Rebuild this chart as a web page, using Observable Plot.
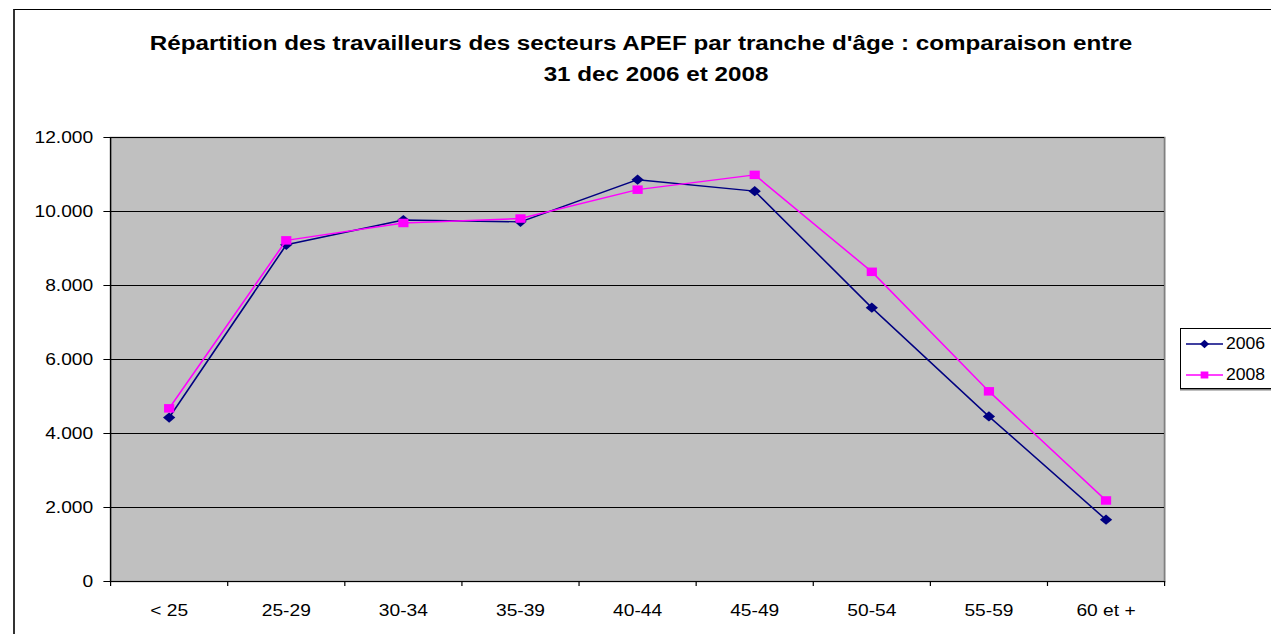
<!DOCTYPE html>
<html>
<head>
<meta charset="utf-8">
<script src="https://cdn.jsdelivr.net/npm/d3@7"></script>
<script src="https://cdn.jsdelivr.net/npm/@observablehq/plot@0.6"></script>
<style>
  html, body { margin: 0; padding: 0; background: #fff; }
  body { width: 1271px; height: 634px; overflow: hidden; position: relative; font-family: "Liberation Sans", Arial, sans-serif; }
  #frame { position: absolute; left: 13px; top: 9px; width: 1400px; height: 800px; border-left: 2px solid #333; border-top: 1.5px solid #000; }
  #chart { position: absolute; left: 0; top: 0; }
  .title { position: absolute; width: 1000px; text-align: center; font-weight: bold; font-size: 20px; line-height: 20px; white-space: nowrap; transform: scaleX(1.21); color: #000; }
  #legend { position: absolute; left: 1180px; top: 328px; width: 130px; height: 59px; border: 1px solid #000; background: #fff; box-shadow: 0 1.5px 0 #808080; }
  .lrow { position: absolute; left: 0; height: 20px; }
  .lrow svg { position: absolute; left: 5px; top: 0; }
  .ltext { position: absolute; left: 45px; top: 0; font-size: 16px; line-height: 20px; transform: scaleX(1.1); transform-origin: 0 0; white-space: nowrap; }
</style>
</head>
<body>
<div id="frame"></div>
<div id="chart"></div>
<div class="title" style="left:141px; top:33px;">Répartition des travailleurs des secteurs APEF par tranche d'âge : comparaison entre</div>
<div class="title" style="left:156px; top:64px;">31 dec 2006 et 2008</div>
<div id="legend"></div>
<script>
// ---- data ----
const categories = ["< 25", "25-29", "30-34", "35-39", "40-44", "45-49", "50-54", "55-59", "60 et +"];
const values2006 = [4430, 9100, 9770, 9720, 10860, 10550, 7400, 4460, 1670];
const values2008 = [4680, 9220, 9690, 9810, 10590, 10990, 8370, 5140, 2190];
const seriesNames = ["2006", "2008"];
const yTicks = [0, 2000, 4000, 6000, 8000, 10000, 12000];

const colors = {"2006": "#000080", "2008": "#ff00ff"};
const symbols = {"2006": "diamond2", "2008": "square"};

const data = [];
categories.forEach((c, i) => {
  data.push({i, cat: c, series: "2006", v: values2006[i]});
  data.push({i, cat: c, series: "2008", v: values2008[i]});
});

const fmt = d => d === 0 ? "0" : d3.format(",")(d).replace(/,/g, ".");
const idx = d3.range(categories.length);
const bounds = d3.range(categories.length + 1).map(k => k - 0.5);

// The reference is horizontally stretched; draw at a narrower width and stretch.
const REAL_W = 1271, H = 634, SX = 1.2002;
const W = Math.round(REAL_W / SX);

const marks = [
  Plot.frame({fill: "#c0c0c0"}),
  Plot.frame({stroke: "#808080", strokeWidth: 1.5}),
  Plot.gridY(yTicks, {stroke: "#000", strokeOpacity: 1, strokeWidth: 1}),
  Plot.ruleX([bounds[0]], {stroke: "#000", strokeWidth: 1}),
  Plot.ruleY([0], {stroke: "#000", strokeWidth: 1}),
  Plot.axisY({ticks: yTicks, tickFormat: fmt, tickSize: 5.5, tickPadding: 9, fill: "#000", stroke: "#000", label: null}),
  Plot.axisX({ticks: bounds, tickSize: 5, tickFormat: () => "", stroke: "#000", label: null}),
  Plot.axisX({ticks: idx, tickSize: 0, tickPadding: 23, tickFormat: i => categories[i], fill: "#000", label: null})
];
for (const s of seriesNames) {
  const d = data.filter(r => r.series === s);
  marks.push(Plot.line(d, {x: "i", y: "v", stroke: colors[s], strokeWidth: 1.4}));
  marks.push(Plot.dot(d, {x: "i", y: "v", symbol: () => symbols[s], fill: colors[s], stroke: "none", r: s === "2006" ? 4.6 : 4.8}));
}

const svg = Plot.plot({
  width: W,
  height: H,
  marginLeft: 110 / SX,
  marginRight: (REAL_W - 1164) / SX,
  marginTop: 137,
  marginBottom: 53,
  x: {domain: [bounds[0], bounds[bounds.length - 1]], axis: null, label: null},
  y: {domain: [0, 12000], axis: null, label: null},
  style: {fontFamily: "'Liberation Sans', Arial, sans-serif", fontSize: "16px", color: "#000", background: "transparent", overflow: "visible"},
  marks
});
svg.setAttribute("width", REAL_W);
svg.setAttribute("height", H);
svg.setAttribute("preserveAspectRatio", "none");
svg.style.width = REAL_W + "px";
svg.style.height = H + "px";
svg.style.maxWidth = "none";
document.getElementById("chart").appendChild(svg);

// ---- legend ----
const legend = d3.select("#legend");
seriesNames.forEach((s, k) => {
  const row = legend.append("div").attr("class", "lrow").style("top", (5 + k * 31) + "px").style("width", "130px");
  const sw = row.append("svg").attr("width", 38).attr("height", 20);
  sw.append("line").attr("x1", 0).attr("x2", 37).attr("y1", 10).attr("y2", 10).attr("stroke", colors[s]).attr("stroke-width", 1.4);
  const sym = s === "2006" ? d3.symbolDiamond2 : d3.symbolSquare;
  const size = s === "2006" ? 45 : 49;
  sw.append("path").attr("d", d3.symbol(sym, size)()).attr("transform", "translate(18.5,10) scale(1.1,1)").attr("fill", colors[s]);
  row.append("div").attr("class", "ltext").text(s);
});
</script>
</body>
</html>
